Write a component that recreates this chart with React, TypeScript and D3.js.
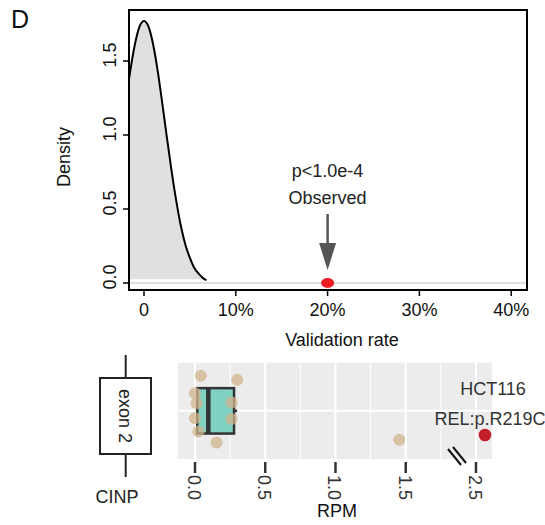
import React from "react";
import * as d3 from "d3";

// ---------- Top panel data ----------
const densityX = [-0.0163, -0.01, -0.005, 0, 0.005, 0.01, 0.015, 0.02, 0.025, 0.03, 0.035, 0.04, 0.045, 0.05, 0.055, 0.06, 0.065, 0.068];
const densityY = [1.38, 1.61, 1.73, 1.77, 1.73, 1.61, 1.43, 1.21, 0.98, 0.76, 0.56, 0.39, 0.26, 0.17, 0.1, 0.06, 0.03, 0.02];
const xTicksTop = [0, 0.1, 0.2, 0.3, 0.4];
const xTickLabelsTop = ["0", "10%", "20%", "30%", "40%"];
const yTicksTop = [0, 0.5, 1.0, 1.5];
const yTickLabelsTop = ["0.0", "0.5", "1.0", "1.5"];
const observedRate = 0.2;
const pText = "p<1.0e-4";

// ---------- Bottom panel data ----------
const rpmValues = [0.041, 0.301, 0.0, 0.012, 0.261, 0.0, 0.261, 0.024, 0.154, 1.454];
const rpmJitter = [0.436, 0.386, 0.22, 0.096, 0.103, -0.091, -0.103, -0.258, -0.395, -0.361];
const boxStats = { q1: 0.016, median: 0.095, q3: 0.278, whiskerHigh: 0.3 };
const highlightRpm = 2.564;
const highlightJitter = -0.3;
const highlightLabel = ["HCT116", "REL:p.R219C"];
const axisBreakAt = 2.0; // display position of break
const axisBreakGap = 0.5; // values above break shifted down by this
const xTicksBottomDisplay = [0, 0.5, 1.0, 1.5, 2.0];
const xTickLabelsBottom = ["0.0", "0.5", "1.0", "1.5", "2.5"];
const minorGridDisplay = [0.25, 0.75, 1.25, 1.75];
const geneName = "CINP";
const exonName = "exon 2";

const FONT = "'Liberation Sans', Arial, Helvetica, sans-serif";

export default function App() {
  // top scales
  const x = d3.scaleLinear().domain([0, 0.1]).range([144, 235.8]);
  const y = d3.scaleLinear().domain([0, 0.5]).range([283, 209]);
  const L = 129, R = 527, T = 10, B = 290;

  const pts = densityX.map((d, i) => [d, densityY[i]] as [number, number]);
  const line = d3.line<[number, number]>().x(d => x(d[0])).y(d => y(d[1])).curve(d3.curveMonotoneX);
  const area = d3.area<[number, number]>().x(d => x(d[0])).y0(y(0.025)).y1(d => y(d[1])).curve(d3.curveMonotoneX);

  // bottom scales
  const bx = d3.scaleLinear().domain([-0.123, 2.114]).range([177.7, 492]);
  const by = d3.scaleLinear().domain([0.4, 1.6]).range([459, 362.7]);
  const disp = (v: number) => (v > axisBreakAt ? v - axisBreakGap : v);
  const cy = by(1);
  const halfBox = 0.283;

  const ox = x(observedRate);

  return (
    <svg width={545} height={525} style={{ position: "absolute", left: 0, top: 0 }} fontFamily={FONT}>
      <rect x={0} y={0} width={545} height={525} fill="#fff" />
      <text x={11} y={28} fontSize={25} fill="#111">D</text>

      {/* top panel */}
      <path d={area(pts) || ""} fill="#e0e0e0" />
      <line x1={L} x2={R} y1={y(0)} y2={y(0)} stroke="#bdbdbd" strokeWidth={1.2} />
      <path d={line(pts) || ""} fill="none" stroke="#000" strokeWidth={2} />
      <rect x={L} y={T} width={R - L} height={B - T} fill="none" stroke="#000" strokeWidth={2} />
      {yTicksTop.map((t, i) => (
        <g key={"yt" + i}>
          <line x1={L - 6} x2={L} y1={y(t)} y2={y(t)} stroke="#000" strokeWidth={1.5} />
          <text transform={`translate(115.5,${y(t) - 6}) rotate(-90)`} textAnchor="middle" fontSize={18} fill="#111">{yTickLabelsTop[i]}</text>
        </g>
      ))}
      {xTicksTop.map((t, i) => (
        <g key={"xt" + i}>
          <line x1={x(t)} x2={x(t)} y1={B} y2={B + 6} stroke="#000" strokeWidth={1.5} />
          <text x={x(t)} y={316} textAnchor="middle" fontSize={18} fill="#111">{xTickLabelsTop[i]}</text>
        </g>
      ))}
      <text transform={`translate(70,157) rotate(-90)`} textAnchor="middle" fontSize={18} fill="#111">Density</text>
      <text x={342} y={346} textAnchor="middle" fontSize={18} fill="#111">Validation rate</text>
      <text x={ox} y={177} textAnchor="middle" fontSize={18} fill="#222">{pText}</text>
      <text x={ox} y={204} textAnchor="middle" fontSize={18} fill="#222">Observed</text>
      <line x1={ox} x2={ox} y1={214} y2={250} stroke="#555" strokeWidth={2.5} />
      <path d={`M${ox - 8.5},${243} L${ox + 8.5},${243} L${ox},${270} Z`} fill="#555" />
      <ellipse cx={ox} cy={y(0)} rx={6.5} ry={5} fill="#ee1c24" />

      {/* bottom panel */}
      <rect x={177.7} y={362.7} width={492 - 177.7} height={459 - 362.7} fill="#ebeceb" />
      {minorGridDisplay.map((t, i) => (
        <line key={"mg" + i} x1={bx(t)} x2={bx(t)} y1={362.7} y2={459} stroke="#fff" strokeWidth={1} />
      ))}
      {xTicksBottomDisplay.map((t, i) => (
        <line key={"g" + i} x1={bx(t)} x2={bx(t)} y1={362.7} y2={459} stroke="#fff" strokeWidth={2} />
      ))}
      <line x1={177.7} x2={492} y1={cy} y2={cy} stroke="#fff" strokeWidth={2} />

      {/* boxplot */}
      <line x1={bx(boxStats.q3)} x2={bx(boxStats.whiskerHigh)} y1={cy} y2={cy} stroke="#333" strokeWidth={2.5} />
      <rect x={bx(boxStats.q1)} y={by(1 + halfBox)} width={bx(boxStats.q3) - bx(boxStats.q1)} height={by(1 - halfBox) - by(1 + halfBox)} fill="#7fd1c1" stroke="#333" strokeWidth={2.5} />
      <line x1={bx(boxStats.median)} x2={bx(boxStats.median)} y1={by(1 + halfBox)} y2={by(1 - halfBox)} stroke="#333" strokeWidth={4.5} />

      {rpmValues.map((v, i) => (
        <circle key={"p" + i} cx={bx(disp(v))} cy={by(1 + rpmJitter[i])} r={6} fill="#d2b48c" fillOpacity={0.75} />
      ))}
      <circle cx={bx(disp(highlightRpm))} cy={by(1 + highlightJitter)} r={6.3} fill="#c41e2a" />
      <text x={493} y={395} textAnchor="middle" fontSize={18} fill="#333">{highlightLabel[0]}</text>
      <text x={490} y={425} textAnchor="middle" fontSize={18} fill="#333">{highlightLabel[1]}</text>

      {/* break marker */}
      <line x1={448} x2={461} y1={449} y2={465} stroke="#111" strokeWidth={2} />
      <line x1={453} x2={466} y1={447} y2={463} stroke="#111" strokeWidth={2} />

      {xTicksBottomDisplay.map((t, i) => (
        <g key={"bt" + i}>
          <line x1={bx(t)} x2={bx(t)} y1={462} y2={473} stroke="#333" strokeWidth={2.5} />
          <text transform={`translate(${bx(t) - 7},475) rotate(90)`} textAnchor="start" fontSize={18} fill="#333">{xTickLabelsBottom[i]}</text>
        </g>
      ))}
      <text x={337} y={517} textAnchor="middle" fontSize={18} fill="#111">RPM</text>

      {/* gene / exon */}
      <line x1={125.7} x2={125.7} y1={355} y2={378} stroke="#222" strokeWidth={2} />
      <line x1={125.7} x2={125.7} y1={454} y2={477} stroke="#222" strokeWidth={2} />
      <rect x={100} y={378} width={51} height={76} fill="#fff" stroke="#222" strokeWidth={2} />
      <text transform={`translate(119,416) rotate(90)`} textAnchor="middle" fontSize={18} fill="#222">{exonName}</text>
      <text x={117} y={503} textAnchor="middle" fontSize={18} fill="#222">{geneName}</text>
    </svg>
  );
}
